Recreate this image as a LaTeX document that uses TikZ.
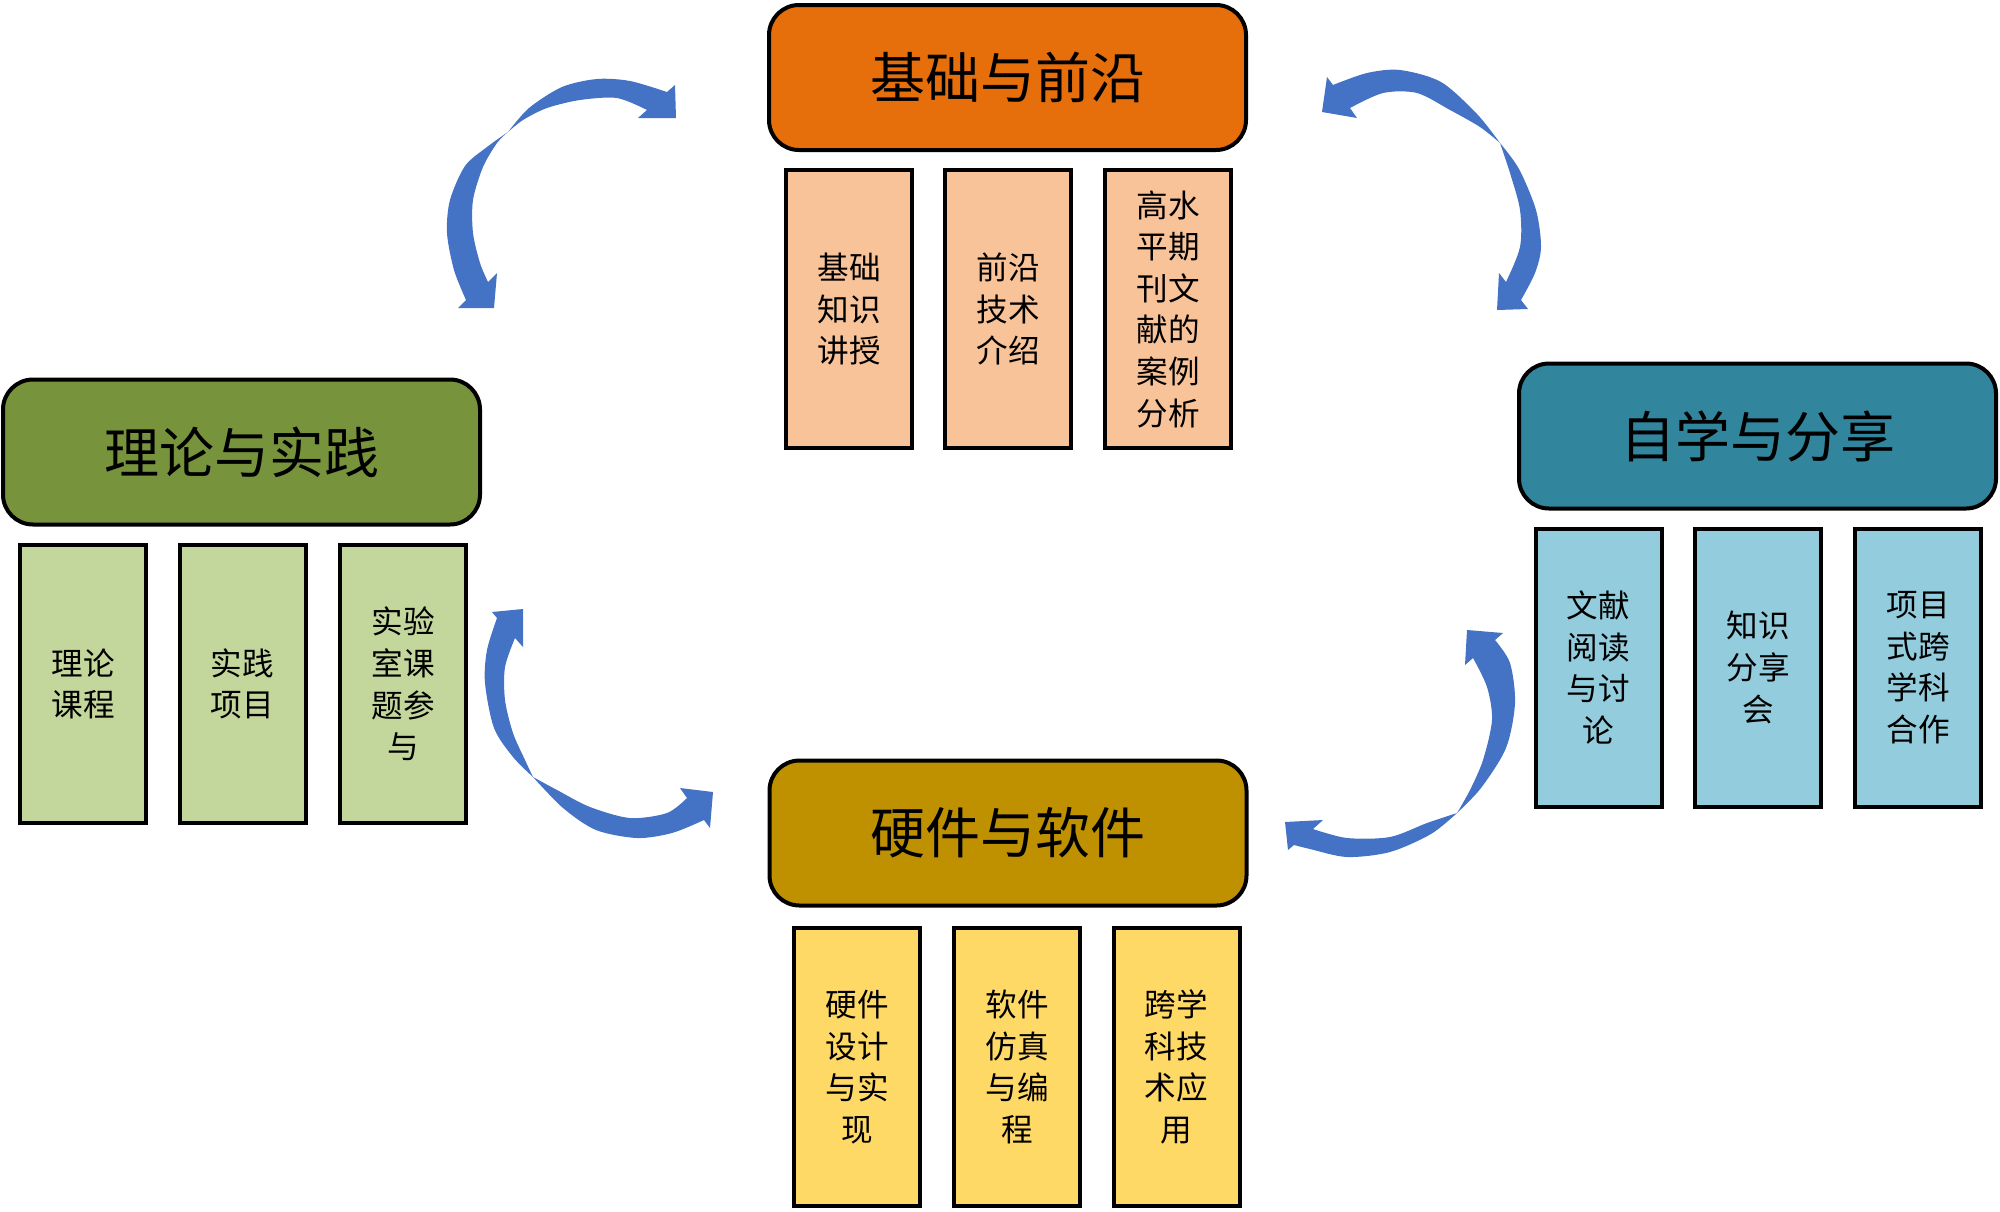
\documentclass[tikz,border=0pt]{standalone}
\usepackage{fontspec}
\newfontfamily\cjk{Noto Sans CJK SC}
\definecolor{orgH}{HTML}{E66F0C}
\definecolor{orgS}{HTML}{F9C39A}
\definecolor{grnH}{HTML}{77933C}
\definecolor{grnS}{HTML}{C3D69B}
\definecolor{tealH}{HTML}{31859C}
\definecolor{tealS}{HTML}{93CDDD}
\definecolor{goldH}{HTML}{BF9000}
\definecolor{goldS}{HTML}{FFD966}
\definecolor{arrblue}{HTML}{4472C4}
\begin{document}
\begin{tikzpicture}[x=0.5pt,y=-0.5pt,
  hdr/.style={draw=black, line width=2pt, rounded corners=15pt,
    minimum width=238.5pt, minimum height=72.5pt, inner sep=0pt,
    font=\cjk\fontsize{27.5}{30}\selectfont},
  subbox/.style={draw=black, line width=2pt, minimum width=63pt,
    minimum height=139pt, inner sep=0pt, align=center,
    font=\cjk\fontsize{15.8}{20.8}\selectfont},
  arr/.style={fill=arrblue}]
\useasboundingbox (0,0) rectangle (2000,1211);

% top group
\node[hdr, fill=orgH] (hTop) at (1007.5,77.5) {基础与前沿};
\node[subbox, fill=orgS] (t1) at (849,309) {基础\\知识\\讲授};
\node[subbox, fill=orgS] (t2) at (1008,309) {前沿\\技术\\介绍};
\node[subbox, fill=orgS] (t3) at (1168,309) {高水\\平期\\刊文\\献的\\案例\\分析};

% left group
\node[hdr, fill=grnH] (hLeft) at (241.5,452) {理论与实践};
\node[subbox, fill=grnS] (l1) at (83,684) {理论\\课程};
\node[subbox, fill=grnS] (l2) at (242.5,684) {实践\\项目};
\node[subbox, fill=grnS] (l3) at (403,684) {实验\\室课\\题参\\与};

% right group
\node[hdr, fill=tealH] (hRight) at (1757.5,436) {自学与分享};
\node[subbox, fill=tealS] (r1) at (1598.5,667.5) {文献\\阅读\\与讨\\论};
\node[subbox, fill=tealS] (r2) at (1758,667.5) {知识\\分享\\会};
\node[subbox, fill=tealS] (r3) at (1918,667.5) {项目\\式跨\\学科\\合作};

% bottom group
\node[hdr, fill=goldH] (hBot) at (1008,833) {硬件与软件};
\node[subbox, fill=goldS] (b1) at (857,1067) {硬件\\设计\\与实\\现};
\node[subbox, fill=goldS] (b2) at (1017,1067) {软件\\仿真\\与编\\程};
\node[subbox, fill=goldS] (b3) at (1176.5,1067) {跨学\\科技\\术应\\用};

% arrow top-left
\fill[arr] (508,132)
 -- plot[smooth] coordinates {(508,132) (529,108) (562,87) (597,79) (630,81) (667,92)}
 -- (675,85) -- (676,118) -- (638,118) -- (647,110)
 -- plot[smooth] coordinates {(647,110) (617,98) (580,100) (547,108) (523,120) (508,132)}
 -- plot[smooth] coordinates {(508,132) (497,143) (483,167) (473,200) (473,233) (480,263) (488,282)}
 -- (497,273) -- (494,308) -- (458,308) -- (466,300)
 -- plot[smooth] coordinates {(466,300) (454,270) (447,233) (450,200) (465,166) (487,147) (508,132)}
 -- cycle;

% arrow top-right
\fill[arr] (1500,143)
 -- plot[smooth] coordinates {(1500,143) (1477,114) (1441,82) (1400,70) (1367,73) (1333,85)}
 -- (1327,77) -- (1322,112) -- (1357,118) -- (1350,108)
 -- plot[smooth] coordinates {(1350,108) (1383,93) (1417,93) (1450,110) (1480,127) (1500,143)}
 -- plot[smooth] coordinates {(1500,143) (1510,173) (1520,210) (1520,247) (1506,282)}
 -- (1499,273) -- (1497,310) -- (1528,309) -- (1521,300)
 -- plot[smooth] coordinates {(1521,300) (1535,273) (1541,247) (1536,210) (1519,169) (1500,143)}
 -- cycle;

% arrow bottom-left
\fill[arr] (533,777)
 -- plot[smooth] coordinates {(533,777) (513,757) (494,728) (485,683) (487,650) (497,618)}
 -- (492,612) -- (523,609) -- (523,647) -- (515,638)
 -- plot[smooth] coordinates {(515,638) (505,667) (505,700) (513,733) (525,760) (533,777)}
 -- plot[smooth] coordinates {(533,777) (557,790) (590,807) (630,818) (667,813) (687,798)}
 -- (680,788) -- (713,792) -- (710,828) -- (704,820)
 -- plot[smooth] coordinates {(704,820) (672,833) (637,838) (596,830) (563,808) (533,777)}
 -- cycle;

% arrow bottom-right
\fill[arr] (1457,813)
 -- plot[smooth] coordinates {(1457,813) (1481,788) (1506,748) (1515,703) (1510,663) (1495,640)}
 -- (1503,633) -- (1467,630) -- (1465,665) -- (1473,658)
 -- plot[smooth] coordinates {(1473,658) (1487,687) (1492,720) (1483,760) (1470,790) (1457,813)}
 -- plot[smooth] coordinates {(1457,813) (1427,823) (1390,837) (1347,838) (1313,829)}
 -- (1323,820) -- (1285,822) -- (1288,850) -- (1294,845)
 -- plot[smooth] coordinates {(1294,845) (1310,849) (1347,857) (1390,852) (1431,834) (1457,813)}
 -- cycle;
\end{tikzpicture}
\end{document}
